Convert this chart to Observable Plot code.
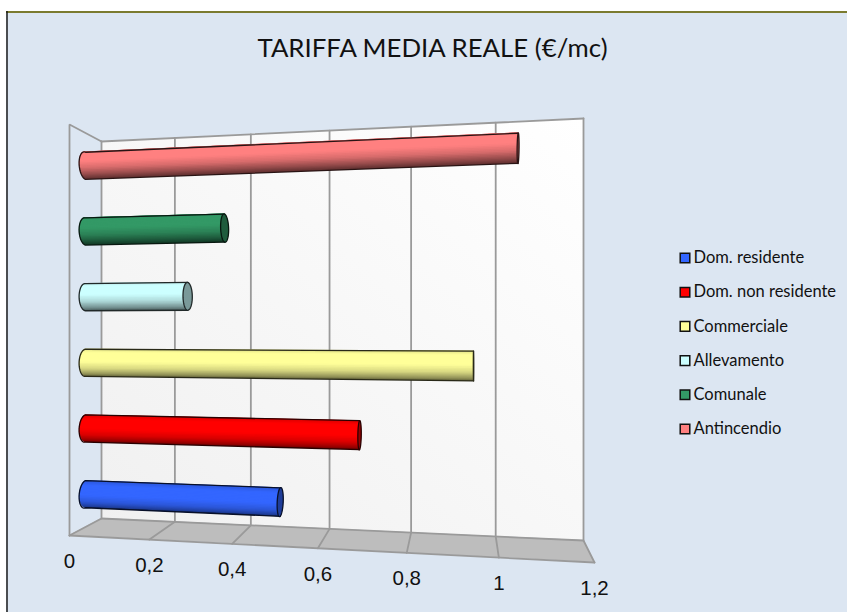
<!DOCTYPE html>
<html>
<head>
<meta charset="utf-8">
<script src="https://cdn.jsdelivr.net/npm/d3@7"></script>
<script src="https://cdn.jsdelivr.net/npm/@observablehq/plot@0.6"></script>
<style>
  html, body { margin: 0; padding: 0; background: #fff; }
  svg { display: block; }
</style>
</head>
<body>
<div id="chart"></div>
<script>
// Average real tariff by user class, €/mc
const categories = ["Dom. residente", "Dom. non residente", "Commerciale", "Allevamento", "Comunale", "Antincendio"];
const values = [0.495, 0.685, 0.947, 0.265, 0.358, 1.046];
const colors = ["#3366ff", "#ff0000", "#ffff99", "#ccffff", "#339966", "#ff8080"];
const ticks = [0, 0.2, 0.4, 0.6, 0.8, 1, 1.2];
const title = "TARIFFA MEDIA REALE (€/mc)";

const W = 847, H = 612;
const xMax = 1.2;

// Scene box: the front and back planes of the 3D plot area, in SVG units
const frontPlane = {x0: 69, x1: 594, bot0: 535, bot1: 562, top0: 124, top1: 98};
const backPlane = {x0: 101, x1: 583, bot0: 518, bot1: 540, top0: 141, top1: 118};
const foreshorten = 0.898;

const lerp = (a, b, t) => a + (b - a) * t;
const perspective = v => {
  const u = v / xMax;
  return u * foreshorten / (1 + (foreshorten - 1) * u);
};
const onPlane = (p, v, h) => {
  const t = perspective(v);
  return [lerp(p.x0, p.x1, t), lerp(lerp(p.bot0, p.bot1, t), lerp(p.top0, p.top1, t), h)];
};
// value along the axis, h = height in the box, d = depth (0 front, 1 back)
const project = (v, h, d) => {
  const [fx, fy] = onPlane(frontPlane, v, h);
  const [bx, by] = onPlane(backPlane, v, h);
  return {x: lerp(fx, bx, d), y: lerp(fy, by, d)};
};

// Cylinder cross-section
const radiusH = 0.0345, radiusD = 0.2, midDepth = 0.5;
const rim = (v, hc, a) => project(v, hc + radiusH * Math.cos(a), midDepth - radiusD * Math.sin(a));
const shade = d3.scaleLinear().domain([0, 0.12, 0.45, 0.7, 0.9, 1]).range([0.86, 1, 1, 0.84, 0.58, 0.4]);
const tone = (c, k) => { const r = d3.rgb(c); return d3.rgb(r.r * k, r.g * k, r.b * k).formatHex(); };

const bars = categories.map((name, i) => ({name, i, value: values[i], color: colors[i], hc: (i + 0.5) / categories.length}));

// Each band runs from its own upper edge down to the underside and the next band
// paints over it, so the shading has no seams between bands.
const STRIPS = 30, ARC = 24;
const strips = bars.flatMap(b => d3.range(STRIPS).flatMap(s => {
  const a0 = Math.PI * s / STRIPS, a1 = Math.PI * (s + 1) / STRIPS;
  const t = (1 - Math.cos((a0 + a1) / 2)) / 2;
  const color = tone(b.color, shade(t));
  return [0, b.value].flatMap(v => {
    const p = rim(v, b.hc, a0), q = rim(v, b.hc, Math.PI);
    return [{id: `${b.i}-${String(s).padStart(2, "0")}`, x1: p.x, y1: p.y, x2: q.x, y2: q.y, color}];
  });
}));
const edgeColor = b => tone(b.color, 0.16);
const outlines = bars.flatMap(b => [
  {...rim(b.value, b.hc, 0), id: b.i, stroke: edgeColor(b)},
  ...d3.range(ARC + 1).map(k => ({...rim(0, b.hc, Math.PI * k / ARC), id: b.i, stroke: edgeColor(b)})),
  {...rim(b.value, b.hc, Math.PI), id: b.i, stroke: edgeColor(b)}
]);
const caps = bars.flatMap(b => d3.range(2 * ARC + 1).map(k => ({
  ...rim(b.value, b.hc, 2 * Math.PI * k / (2 * ARC)), id: b.i, fill: tone(b.color, 0.6), stroke: edgeColor(b)
})));

// Box surfaces and grid
const wall = [0, xMax].map(v => {
  const a = onPlane(backPlane, v, 1), b = onPlane(backPlane, v, 0);
  return {x1: a[0], y1: a[1], x2: b[0], y2: b[1]};
});
const floor = [0, xMax].map(v => {
  const a = project(v, 0, 1), b = project(v, 0, 0);
  return {x1: a.x, y1: a.y, x2: b.x, y2: b.y};
});
const segment = (id, ...pts) => pts.map(p => ({...p, id}));
const grid = [
  ...ticks.flatMap(v => segment(`w${v}`, project(v, 1, 1), project(v, 0, 1), project(v, 0, 0))),
  ...segment("top", project(0, 1, 1), project(xMax, 1, 1)),
  ...segment("bottom", project(0, 0, 1), project(xMax, 0, 1)),
  ...segment("front", project(0, 0, 0), project(xMax, 0, 0)),
  ...segment("side", project(0, 1, 1), project(0, 1, 0), project(0, 0, 0))
];
const tickLabels = ticks.map(v => ({
  label: String(v).replace(".", ","),
  x: project(v, 0, 0).x,
  y: project(v, 0, 0).y + 26
}));

const legendX = 684.5, legendTextX = 693, legendTop = 257.5, legendStep = 34.2;
const legend = categories.map((name, i) => ({name, color: colors[i], y: legendTop + i * legendStep}));

const gradient = () => {
  const defs = d3.create("svg:defs");
  const g = defs.append("linearGradient").attr("id", "wallShade")
    .attr("x1", 0).attr("y1", 1).attr("x2", 1).attr("y2", 0);
  g.append("stop").attr("offset", "0%").attr("stop-color", "#f0f0f0");
  g.append("stop").attr("offset", "100%").attr("stop-color", "#ffffff");
  return defs.node();
};

const chart = Plot.plot({
  width: W, height: H,
  margin: 0,
  x: {domain: [0, W], range: [0, W], axis: null},
  y: {domain: [0, H], range: [0, H], axis: null},
  color: {type: "identity"},
  style: {background: "transparent", fontFamily: "Lato, 'Liberation Sans', sans-serif"},
  marks: [
    gradient,
    // chart area and its border
    Plot.rect([{}], {x1: 6, x2: W, y1: 11, y2: H, fill: "#dce6f2"}),
    Plot.ruleY([11.5], {x1: 6, x2: W, stroke: "#7b7b2f", strokeWidth: 2}),
    Plot.ruleX([6.5], {y1: 11, y2: H, stroke: "#1a1a1a", strokeWidth: 1.5}),
    // box
    Plot.area(wall, {x1: "x1", y1: "y1", x2: "x2", y2: "y2", fill: "url(#wallShade)"}),
    Plot.area(floor, {x1: "x1", y1: "y1", x2: "x2", y2: "y2", fill: "#bdbdbd"}),
    Plot.line(grid, {x: "x", y: "y", z: "id", stroke: "#9a9a9a", strokeWidth: 1.8, strokeLinejoin: "miter"}),
    // cylinders
    Plot.area(strips, {x1: "x1", y1: "y1", x2: "x2", y2: "y2", z: "id", fill: "color"}),
    Plot.line(outlines, {x: "x", y: "y", z: "id", stroke: "stroke", strokeWidth: 1.3}),
    Plot.line(caps, {x: "x", y: "y", z: "id", fill: "fill", stroke: "stroke", strokeWidth: 1.3}),
    // text
    Plot.text([title], {x: 432, y: 48, text: d => d, fontSize: 25.8, fill: "#111"}),
    Plot.text(tickLabels, {x: "x", y: "y", text: "label", fontSize: 20.5, fontFamily: "'Liberation Sans', Arial, sans-serif", fill: "#111"}),
    // legend
    Plot.dot(legend, {x: legendX, y: "y", symbol: "square", r: 5.4, fill: "color", stroke: "#111", strokeWidth: 1.5}),
    Plot.text(legend, {x: legendTextX, y: "y", text: "name", textAnchor: "start", fontSize: 16.5, fill: "#111"})
  ]
});
document.getElementById("chart").append(chart);
</script>
</body>
</html>
